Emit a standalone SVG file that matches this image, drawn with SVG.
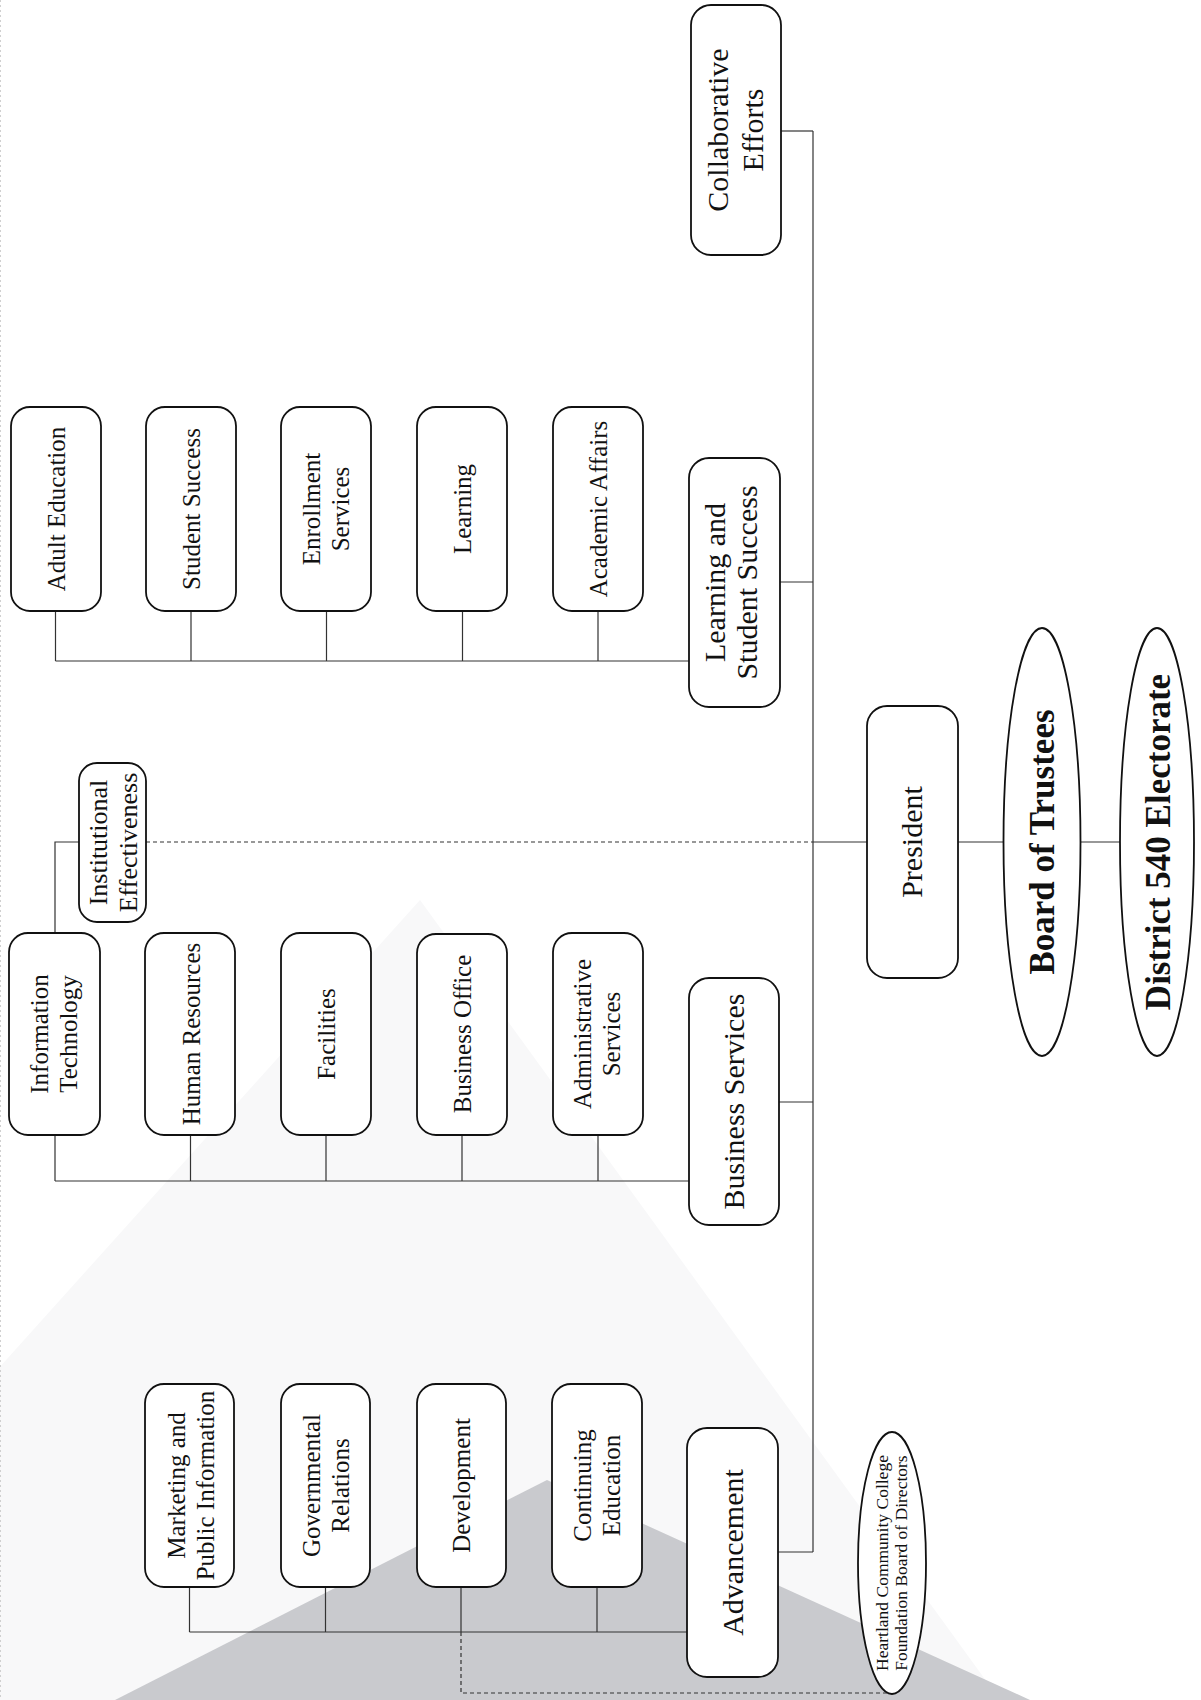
<svg xmlns="http://www.w3.org/2000/svg" width="1201" height="1700" viewBox="0 0 1201 1700">
<style>
.box{fill:#fff;stroke:#111;stroke-width:1.8}
.ln{fill:none;stroke:#333;stroke-width:1.2}
.dash{stroke-dasharray:4 3}
.t{font-family:"Liberation Serif","Times New Roman",serif;text-anchor:middle;fill:#111}
.l2{font-size:30px}
.l3{font-size:25px}
.ie{font-size:26px}
.hl{font-size:17.5px}
.b{font-size:35px;font-weight:bold}
</style>
<rect x="0" y="0" width="1201" height="1700" fill="#fff"/>
<g id="background">
<polygon points="420,900 -300,1700 1000,1700" fill="#f8f8f9"/>
<polygon points="547,1480 115,1700 1030,1700" fill="#c9cace"/>
<line x1="0.5" y1="0" x2="0.5" y2="1700" stroke="#d0d0d0" stroke-dasharray="2 3"/>
</g>
<g id="connectors">
<path class="ln" d="M813 131V1552"/>
<path class="ln" d="M781 131H813"/>
<path class="ln" d="M780 582H813"/>
<path class="ln" d="M779 1102H813"/>
<path class="ln" d="M778 1552H813"/>
<path class="ln" d="M813 842H867"/>
<path class="ln" d="M958 842H1003.5"/>
<path class="ln" d="M1080.5 842H1120"/>
<path class="ln" d="M55.5 661H689M55.5 611V661M191 611V661M326.5 611V661M462.5 611V661M598 611V661"/>
<path class="ln" d="M55 1181H689M55 1135V1181M190.5 1135V1181M326 1135V1181M462 1135V1181M598 1135V1181"/>
<path class="ln" d="M55 933V842H79"/>
<path class="ln" d="M189.5 1632H687M189.5 1587V1632M325.5 1587V1632M461 1587V1632M597 1587V1632"/>
<path class="ln dash" d="M146 842H813"/>
<path class="ln dash" d="M461 1632V1693H892"/>
</g>
<g id="collaborative-efforts">
<rect class="box" x="691" y="5" width="90" height="250" rx="20"/>
<text class="t l2" transform="translate(728,130) rotate(-90)">Collaborative</text>
<text class="t l2" transform="translate(763,130) rotate(-90)">Efforts</text>
</g>
<g id="learning-student-success">
<rect class="box" x="689" y="458" width="91" height="249" rx="20"/>
<text class="t l2" transform="translate(725,582.5) rotate(-90)">Learning and</text>
<text class="t l2" transform="translate(757,582.5) rotate(-90)">Student Success</text>
</g>
<g id="adult-education">
<rect class="box" x="11" y="407" width="90" height="204" rx="19"/>
<text class="t l3" transform="translate(65,509) rotate(-90)">Adult Education</text>
</g>
<g id="student-success">
<rect class="box" x="146" y="407" width="90" height="204" rx="19"/>
<text class="t l3" transform="translate(200,509) rotate(-90)">Student Success</text>
</g>
<g id="enrollment-services">
<rect class="box" x="281" y="407" width="90" height="204" rx="19"/>
<text class="t l3" transform="translate(320,509) rotate(-90)">Enrollment</text>
<text class="t l3" transform="translate(349,509) rotate(-90)">Services</text>
</g>
<g id="learning">
<rect class="box" x="417" y="407" width="90" height="204" rx="19"/>
<text class="t l3" transform="translate(471,509) rotate(-90)">Learning</text>
</g>
<g id="academic-affairs">
<rect class="box" x="553" y="407" width="90" height="204" rx="19"/>
<text class="t l3" transform="translate(607,509) rotate(-90)">Academic Affairs</text>
</g>
<g id="institutional-effectiveness">
<rect class="box" x="79" y="763" width="67" height="159" rx="18"/>
<text class="t ie" transform="translate(106.5,842.5) rotate(-90)">Institutional</text>
<text class="t ie" transform="translate(136.5,842.5) rotate(-90)">Effectiveness</text>
</g>
<g id="information-technology">
<rect class="box" x="9" y="933" width="91" height="202" rx="19"/>
<text class="t l3" transform="translate(47.5,1034) rotate(-90)">Information</text>
<text class="t l3" transform="translate(76.5,1034) rotate(-90)">Technology</text>
</g>
<g id="human-resources">
<rect class="box" x="145" y="933" width="90" height="202" rx="19"/>
<text class="t l3" transform="translate(199.5,1034) rotate(-90)">Human Resources</text>
</g>
<g id="facilities">
<rect class="box" x="281" y="933" width="90" height="202" rx="19"/>
<text class="t l3" transform="translate(335,1034) rotate(-90)">Facilities</text>
</g>
<g id="business-office">
<rect class="box" x="417" y="934" width="90" height="201" rx="19"/>
<text class="t l3" transform="translate(471,1034) rotate(-90)">Business Office</text>
</g>
<g id="administrative-services">
<rect class="box" x="553" y="933" width="90" height="202" rx="19"/>
<text class="t l3" transform="translate(591,1034) rotate(-90)">Administrative</text>
<text class="t l3" transform="translate(620,1034) rotate(-90)">Services</text>
</g>
<g id="business-services">
<rect class="box" x="689" y="978" width="90" height="247" rx="20"/>
<text class="t l2" transform="translate(744,1101.5) rotate(-90)">Business Services</text>
</g>
<g id="president">
<rect class="box" x="867" y="706" width="91" height="272" rx="20"/>
<text class="t l2" transform="translate(922,842) rotate(-90)">President</text>
</g>
<g id="board-of-trustees">
<ellipse class="box" cx="1042" cy="842" rx="38.5" ry="214"/>
<text class="t b" transform="translate(1054,842) rotate(-90)">Board of Trustees</text>
</g>
<g id="district-540-electorate">
<ellipse class="box" cx="1157" cy="842" rx="37" ry="214"/>
<text class="t b" transform="translate(1170,842) rotate(-90)">District 540 Electorate</text>
</g>
<g id="marketing-public-information">
<rect class="box" x="145" y="1384" width="89" height="203" rx="19"/>
<text class="t l3" transform="translate(184.5,1485.5) rotate(-90)">Marketing and</text>
<text class="t l3" transform="translate(213.5,1485.5) rotate(-90)">Public Information</text>
</g>
<g id="governmental-relations">
<rect class="box" x="281" y="1384" width="89" height="203" rx="19"/>
<text class="t l3" transform="translate(320,1485.5) rotate(-90)">Governmental</text>
<text class="t l3" transform="translate(349,1485.5) rotate(-90)">Relations</text>
</g>
<g id="development">
<rect class="box" x="417" y="1384" width="89" height="203" rx="19"/>
<text class="t l3" transform="translate(470,1485.5) rotate(-90)">Development</text>
</g>
<g id="continuing-education">
<rect class="box" x="552" y="1384" width="90" height="203" rx="19"/>
<text class="t l3" transform="translate(591,1485.5) rotate(-90)">Continuing</text>
<text class="t l3" transform="translate(620,1485.5) rotate(-90)">Education</text>
</g>
<g id="advancement">
<rect class="box" x="687" y="1428" width="91" height="249" rx="20"/>
<text class="t l2" transform="translate(743,1552.5) rotate(-90)">Advancement</text>
</g>
<g id="heartland-foundation">
<ellipse class="box" cx="892" cy="1563" rx="34" ry="131"/>
<text class="t hl" transform="translate(888,1563) rotate(-90)">Heartland Community College</text>
<text class="t hl" transform="translate(907,1563) rotate(-90)">Foundation Board of Directors</text>
</g>
</svg>
